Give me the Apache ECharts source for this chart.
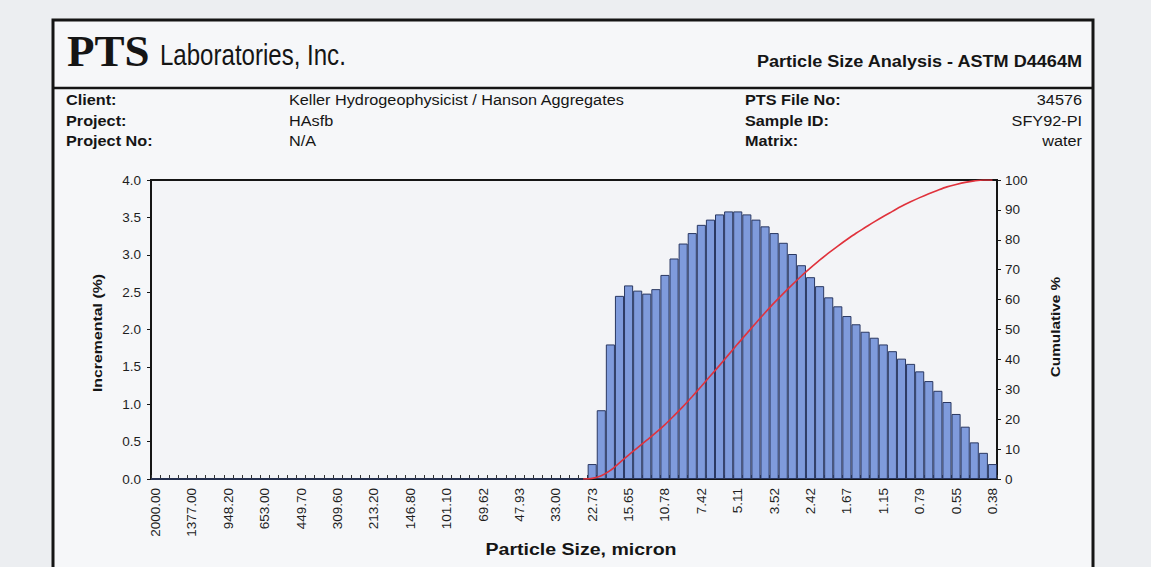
<!DOCTYPE html>
<html>
<head>
<meta charset="utf-8">
<title>Particle Size Analysis - ASTM D4464M</title>
<script src="https://cdn.jsdelivr.net/npm/echarts@6/dist/echarts.min.js"></script>
<style>
  html, body { margin: 0; padding: 0; background: #eceef1; }
  #chart { width: 1151px; height: 567px; }
</style>
</head>
<body>
<div id="chart"></div>
<script>
// Channel sizes (micron), coarse to fine
const sizes = [
  '2000.00','1822.00','1659.00','1511.00','1377.00','1254.00','1143.00','1041.00',
  '948.20','863.90','787.00','716.90','653.00','594.90','541.90','493.60',
  '449.70','409.60','373.10','339.90','309.60','282.10','257.00','234.10',
  '213.20','194.30','177.00','161.20','146.80','133.70','121.80','111.00',
  '101.10','92.09','83.89','76.42','69.62','63.42','57.77','52.63',
  '47.93','43.67','39.78','36.24','33.00','30.07','27.39','24.95',
  '22.73','20.71','18.86','17.18','15.65','14.26','12.99','11.83',
  '10.78','9.82','8.94','8.15','7.42','6.76','6.16','5.61',
  '5.11','4.66','4.24','3.86','3.52','3.21','2.92','2.66',
  '2.42','2.21','2.01','1.83','1.67','1.52','1.39','1.26',
  '1.15','1.05','0.95','0.87','0.79','0.72','0.66','0.60',
  '0.55','0.50','0.45','0.41','0.38'
];

// Incremental volume % per channel
const incremental = [
  0,0,0,0,0,0,0,0, 0,0,0,0,0,0,0,0,
  0,0,0,0,0,0,0,0, 0,0,0,0,0,0,0,0,
  0,0,0,0,0,0,0,0, 0,0,0,0,0,0,0,0,
  0.20,0.92,1.80,2.45,2.59,2.52,2.48,2.54,
  2.73,2.95,3.15,3.29,3.40,3.47,3.54,3.58,
  3.58,3.54,3.47,3.38,3.29,3.16,3.01,2.86,
  2.70,2.58,2.43,2.31,2.18,2.07,1.97,1.89,
  1.80,1.71,1.61,1.54,1.44,1.31,1.18,1.03,
  0.87,0.70,0.49,0.35,0.20
];

// Cumulative volume % (curve begins just above the first populated channel)
const cumulative = [
  null,null,null,null,null,null,null,null, null,null,null,null,null,null,null,null,
  null,null,null,null,null,null,null,null, null,null,null,null,null,null,null,null,
  null,null,null,null,null,null,null,null, null,null,null,null,null,null,null,0,
  0.2,1.1,2.9,5.4,8.0,10.5,13.0,15.5,
  18.2,21.2,24.3,27.6,31.0,34.5,38.0,41.6,
  45.2,48.7,52.2,55.6,58.9,62.0,65.0,67.9,
  70.6,73.2,75.6,77.9,80.1,82.2,84.1,86.0,
  87.8,89.5,91.2,92.7,94.1,95.4,96.6,97.7,
  98.5,99.2,99.7,100,100
];

// Report header fields
const headerLeft = [['Client:', 'Keller Hydrogeophysicist / Hanson Aggregates'], ['Project:', 'HAsfb'], ['Project No:', 'N/A']];
const headerRight = [['PTS File No:', '34576'], ['Sample ID:', 'SFY92-PI'], ['Matrix:', 'water']];

const ink = '#151515';
const sans = '"Liberation Sans", Arial, sans-serif';
const wide = 1.16;   // horizontal stretch of the printed lettering

const chart = echarts.init(document.getElementById('chart'), null, { renderer: 'svg' });

function label(x, y, text, font, opts) {
  return Object.assign({
    type: 'text', x: x, y: y, scaleX: wide, silent: true
  }, opts || {}, { style: Object.assign({ text: text, fill: ink, font: font, textVerticalAlign: 'middle' }, (opts && opts.style) || {}) });
}

const graphics = [
  { type: 'rect', z: -100, silent: true, shape: { x: 53, y: 20, width: 1040, height: 600 },
    style: { fill: '#f6f7f9', stroke: ink, lineWidth: 3 } },
  { type: 'line', silent: true, shape: { x1: 53, y1: 88, x2: 1093, y2: 88 },
    style: { stroke: ink, lineWidth: 2.5 } },
  { type: 'text', x: 67, y: 73, silent: true,
    style: { text: 'PTS', fill: ink, font: 'bold 45px "Liberation Serif", "Times New Roman", serif', textVerticalAlign: 'bottom' } },
  { type: 'text', x: 160, y: 70, scaleX: 0.83, silent: true,
    style: { text: 'Laboratories, Inc.', fill: ink, font: '29px ' + sans, textVerticalAlign: 'bottom' } },
  label(1082, 62, 'Particle Size Analysis - ASTM D4464M', 'bold 16px ' + sans, { scaleX: 1.13, style: { textAlign: 'right' } }),
  // axis titles
  label(98, 333, 'Incremental (%)', 'bold 13px ' + sans, { scaleX: 1.22, rotation: Math.PI / 2, style: { textAlign: 'center' } }),
  label(1055, 327, 'Cumulative %', 'bold 13px ' + sans, { scaleX: 1.18, rotation: Math.PI / 2, style: { textAlign: 'center' } }),
  label(581, 549, 'Particle Size, micron', 'bold 17px ' + sans, { scaleX: 1.15, style: { textAlign: 'center' } })
];
headerLeft.forEach(function (row, i) {
  const y = 100 + i * 20.5;
  graphics.push(label(66, y, row[0], 'bold 14px ' + sans));
  graphics.push(label(289, y, row[1], '14px ' + sans));
});
headerRight.forEach(function (row, i) {
  const y = 100 + i * 20.5;
  graphics.push(label(745, y, row[0], 'bold 14px ' + sans));
  graphics.push(label(1082, y, row[1], '14px ' + sans, { style: { textAlign: 'right' } }));
});

const axisLine = { show: true, lineStyle: { color: ink, width: 2 } };

chart.setOption({
  animation: false,
  backgroundColor: 'transparent',
  graphic: graphics,
  grid: { left: 151, right: 154, top: 180, bottom: 88, show: true, borderColor: ink, borderWidth: 2, backgroundColor: '#f3f4f7' },
  xAxis: {
    type: 'category',
    data: sizes,
    boundaryGap: true,
    axisLine: axisLine,
    axisTick: { show: true, interval: 0, inside: true, length: 4, lineStyle: { color: '#333', width: 1 } },
    axisLabel: { interval: 3, rotate: 90, margin: 9, color: '#1e1e1e', fontFamily: sans, fontSize: 13.5 },
    splitLine: { show: false }
  },
  yAxis: [
    {
      type: 'value', min: 0, max: 4, interval: 0.5, position: 'left',
      axisLine: axisLine,
      axisTick: { show: true, length: 4, lineStyle: { color: ink } },
      axisLabel: { color: '#1e1e1e', fontFamily: sans, fontSize: 13.5, margin: 10, formatter: function (v) { return v.toFixed(1); } },
      splitLine: { show: false }
    },
    {
      type: 'value', min: 0, max: 100, interval: 10, position: 'right',
      axisLine: axisLine,
      axisTick: { show: true, length: 4, lineStyle: { color: ink } },
      axisLabel: { color: '#1e1e1e', fontFamily: sans, fontSize: 13.5, margin: 8 },
      splitLine: { show: false }
    }
  ],
  series: [
    {
      type: 'bar', name: 'Incremental', data: incremental, yAxisIndex: 0,
      barCategoryGap: '0%',
      itemStyle: { color: '#7f9bdc', borderColor: '#2a3862', borderWidth: 1 }
    },
    {
      type: 'line', name: 'Cumulative', data: cumulative, yAxisIndex: 1,
      smooth: 0.3, showSymbol: false, symbol: 'none', z: 5, connectNulls: false,
      lineStyle: { color: '#e0323c', width: 1.6 }
    }
  ]
});
</script>
</body>
</html>
